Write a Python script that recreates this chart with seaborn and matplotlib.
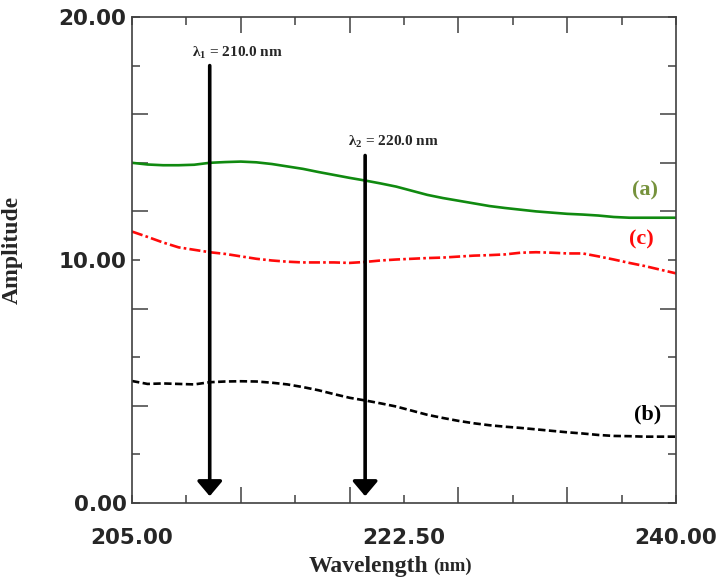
import numpy as np
import pandas as pd
import matplotlib
matplotlib.use("Agg")
import matplotlib.pyplot as plt
import seaborn as sns

# wavelength grid (nm) and the three amplitude traces
wavelength = list(range(205, 241))
amp_a = [14.00, 13.93, 13.90, 13.90, 13.92, 14.00, 14.03, 14.05, 14.02, 13.95,
         13.85, 13.75, 13.62, 13.50, 13.38, 13.27, 13.15, 13.02, 12.85, 12.68,
         12.55, 12.44, 12.33, 12.22, 12.14, 12.07, 12.00, 11.95, 11.90, 11.87,
         11.83, 11.77, 11.74, 11.74, 11.74, 11.74]
amp_b = [5.02, 4.90, 4.92, 4.90, 4.88, 4.97, 5.00, 5.01, 5.00, 4.95,
         4.88, 4.77, 4.64, 4.48, 4.33, 4.22, 4.10, 3.97, 3.80, 3.63,
         3.50, 3.38, 3.28, 3.20, 3.14, 3.09, 3.03, 2.97, 2.91, 2.86,
         2.80, 2.76, 2.75, 2.73, 2.73, 2.73]
amp_c = [11.17, 10.95, 10.72, 10.52, 10.42, 10.32, 10.25, 10.15, 10.05, 9.98,
         9.93, 9.90, 9.90, 9.90, 9.88, 9.92, 9.98, 10.02, 10.05, 10.08,
         10.10, 10.14, 10.18, 10.20, 10.23, 10.30, 10.32, 10.30, 10.27, 10.27,
         10.15, 10.02, 9.88, 9.75, 9.60, 9.45]

series_names = ["(a)", "(b)", "(c)"]
lambda_pos = [210.0, 220.0]
lambda_labels = [r"λ$_\mathbf{1}$ = 210.0 nm", r"λ$_\mathbf{2}$ = 220.0 nm"]
arrow_top = [18.0, 14.3]

df = pd.DataFrame({
    "Wavelength": wavelength * 3,
    "Amplitude": amp_a + amp_b + amp_c,
    "trace": [series_names[0]] * len(wavelength) + [series_names[1]] * len(wavelength)
             + [series_names[2]] * len(wavelength),
})

sns.set_style("ticks")
plt.rcParams["mathtext.fontset"] = "custom"
plt.rcParams["mathtext.bf"] = "Liberation Serif:bold"
plt.rcParams["mathtext.rm"] = "Liberation Serif"

fig = plt.figure(figsize=(7.18, 5.82), dpi=100)
ax = fig.add_axes([132 / 718, 1 - 503 / 582, 544 / 718, 486 / 582])

colors = {"(a)": "#108a10", "(b)": "black", "(c)": "#ff0a0a"}
dashes = {"(a)": "", "(b)": (2.8, 1.3), "(c)": (4.2, 1.2, 1.0, 1.2)}
sns.lineplot(data=df, x="Wavelength", y="Amplitude", hue="trace", style="trace",
             palette=colors, dashes=dashes, linewidth=1.9, legend=False, ax=ax)

ax.set_xlim(205, 240)
ax.set_ylim(0, 20)

# arrows at the two selected wavelengths
for xv, top, lab in zip(lambda_pos, arrow_top, lambda_labels):
    ax.annotate("", xy=(xv, 0.28), xytext=(xv, top),
                arrowprops=dict(arrowstyle="-|>,head_length=0.45,head_width=0.38",
                                mutation_scale=20, lw=2.6, color="black",
                                shrinkA=0, shrinkB=0))
    ax.text(xv + 1.8, top + 0.55, lab, ha="center", va="center",
            fontsize=11, fontweight="bold", family="Liberation Serif")

# trace labels
label_font = dict(fontsize=16, fontweight="bold", family="Liberation Serif",
                  ha="center", va="center")
ax.text(238.0, 12.85, "(a)", color="#76923c", **label_font)
ax.text(237.8, 10.85, "(c)", color="#ff0a0a", **label_font)
ax.text(238.2, 3.65, "(b)", color="black", **label_font)

# ticks: inward on all sides, two lengths
spine_col = "#404040"
ax.set_xticks([205, 208.5, 215.5, 222.5, 229.5, 236.5, 240])
ax.set_xticklabels(["205.00", "", "", "222.50", "", "", "240.00"])
ax.set_xticks([212, 219, 226, 233], minor=True)
ax.set_yticks([0, 2, 6, 10, 18, 20])
ax.set_yticklabels(["0.00", "", "", "10.00", "", "20.00"])
ax.set_yticks([4, 8, 12, 14, 16], minor=True)

ax.tick_params(which="both", direction="in", top=True, right=True,
               color=spine_col, width=1.1)
ax.tick_params(which="major", length=5.5)
ax.tick_params(which="minor", length=11.5)
ax.tick_params(axis="x", which="major", pad=18)
ax.tick_params(axis="y", which="major", pad=4)
for lbl in ax.get_xticklabels() + ax.get_yticklabels():
    lbl.set_family("DejaVu Sans")
    lbl.set_fontweight("bold")
    lbl.set_fontsize(15.5)

for sp in ax.spines.values():
    sp.set_color(spine_col)
    sp.set_linewidth(1.2)

ax.set_ylabel("Amplitude", fontsize=17, fontweight="bold", family="Liberation Serif")
ax.yaxis.set_label_coords(-0.2005, 0.52)
ax.set_xlabel("Wavelength", fontsize=17, fontweight="bold", family="Liberation Serif")
ax.xaxis.set_label_coords(0.4347, -0.1095)
ax.text((433 - 132) / 544, (503 - 571) / 486, "(nm)", transform=ax.transAxes,
        ha="left", va="baseline", fontsize=13.5, fontweight="bold",
        family="Liberation Serif")

fig.savefig("out.png", dpi=100)
